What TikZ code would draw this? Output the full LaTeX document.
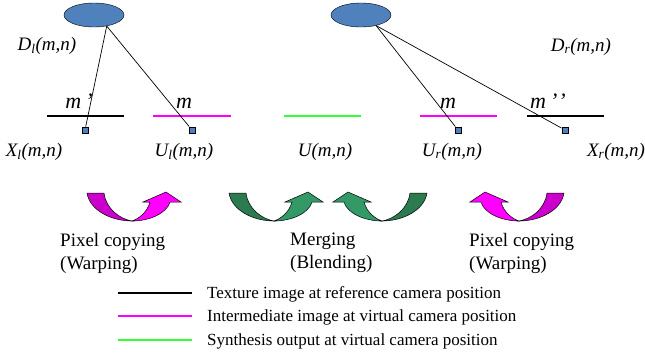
\documentclass[tikz,border=0pt]{standalone}
\usepackage{fontspec}
\setmainfont{Liberation Serif}
\usepackage{tikz}
\usepackage{xcolor}
\usetikzlibrary{shapes.geometric}

\definecolor{camblue}{RGB}{79,129,189}
\definecolor{warpdark}{RGB}{204,0,204}
\definecolor{warplight}{RGB}{255,0,255}
\definecolor{mergedark}{RGB}{44,122,80}
\definecolor{mergelight}{RGB}{51,153,102}
\definecolor{synthgreen}{RGB}{51,255,51}

% curved arrow: bottom point x, mirror (1 or -1), dark colour, light colour
\newcommand{\curvedarrow}[4]{%
  \begin{scope}[shift={(#1,221)}, xscale=#2]
    \filldraw[fill=#3, line width=0.5pt] (-45,-28) .. controls (-42,-10) and (-20,0) .. (0,0)
      .. controls (-12,-2) and (-26,-12) .. (-28,-28) -- cycle;
    \filldraw[fill=#4, line width=0.5pt] (0,0) .. controls (18,0) and (35,-8) .. (38,-19)
      -- (49,-19) -- (34,-29) -- (11,-19) -- (18,-19)
      .. controls (15,-8) and (6,-2) .. (0,0) -- cycle;
  \end{scope}}

\begin{document}
\begin{tikzpicture}[x=1pt, y=-1pt,
  cam/.style={ellipse, draw, fill=camblue, minimum width=60pt, minimum height=24pt, inner sep=0pt},
  pix/.style={rectangle, draw, fill=camblue, minimum size=6.5pt, inner sep=0pt},
  lbl/.style={font=\fontsize{19}{22}\selectfont\itshape, inner sep=0pt, anchor=base},
  mlbl/.style={font=\fontsize{22}{24}\selectfont\itshape, inner sep=0pt, anchor=base},
  caption/.style={font=\fontsize{19}{23}\selectfont, align=left, inner sep=0pt, anchor=north west},
  legtext/.style={font=\fontsize{17}{20}\selectfont, inner sep=0pt, anchor=base west},
  refline/.style={black, line width=1.5pt},
  midline/.style={warplight, line width=1.5pt},
  outline/.style={synthgreen, line width=1.5pt}]
\useasboundingbox (0,0) rectangle (645,354);

% Cameras (depth maps)
\node[cam] (dl) at (94,15) {};
\node[cam] (dr) at (361,15) {};
\node[lbl] (dltext) at (47,50) {D\textsubscript{l}(m,n)};
\node[lbl] (drtext) at (581,51) {D\textsubscript{r}(m,n)};

% Image planes
\draw[refline] (47,116) -- (124,116);
\draw[midline] (153,116) -- (231,116);
\draw[outline] (284,116) -- (361,116);
\draw[midline] (420,116) -- (497,116);
\draw[refline] (527,116) -- (604,116);

\node[mlbl] (mp) at (79,108) {m\hspace{4pt}’};
\node[mlbl] (ml) at (184,108) {m};
\node[mlbl] (mr) at (448,108) {m};
\node[mlbl] (mpp) at (548,108) {m\hspace{4pt}’\hspace{1pt}’};

% Pixels
\node[pix] (xl) at (85,130) {};
\node[pix] (ul) at (192,130) {};
\node[pix] (ur) at (458,130) {};
\node[pix] (xr) at (565,130) {};

% Projection lines
\draw[line width=0.7pt] (dl.-41) -- (xl);
\draw[line width=0.7pt] (dl.-41) -- (ul);
\draw[line width=0.7pt] (dr.-35) -- (ur);
\draw[line width=0.7pt] (dr.-35) -- (xr);

\node[lbl] (xltext) at (34,156) {X\textsubscript{l}(m,n)};
\node[lbl] (ultext) at (184,156) {U\textsubscript{l}(m,n)};
\node[lbl] (utext) at (325,156) {U(m,n)};
\node[lbl] (urtext) at (452,156) {U\textsubscript{r}(m,n)};
\node[lbl] (xrtext) at (616,156) {X\textsubscript{r}(m,n)};

% Curved arrows
\curvedarrow{132}{1}{warpdark}{warplight}
\curvedarrow{274}{1}{mergedark}{mergelight}
\curvedarrow{382}{-1}{mergedark}{mergelight}
\curvedarrow{519}{-1}{warpdark}{warplight}

\node[caption] (warpl) at (60,233) {Pixel copying\\(Warping)};
\node[caption] (merge) at (290,233) {Merging\\(Blending)};
\node[caption] (warpr) at (469,233) {Pixel copying\\(Warping)};

% Legend
\draw[refline] (118,293) -- (192,293);
\draw[midline] (118,316) -- (192,316);
\draw[outline] (118,340) -- (192,340);
\node[legtext] (leg1) at (207,298) {Texture image at reference camera position};
\node[legtext] (leg2) at (207,321) {Intermediate image at virtual camera position};
\node[legtext] (leg3) at (207,345) {Synthesis output at virtual camera position};
\end{tikzpicture}
\end{document}
